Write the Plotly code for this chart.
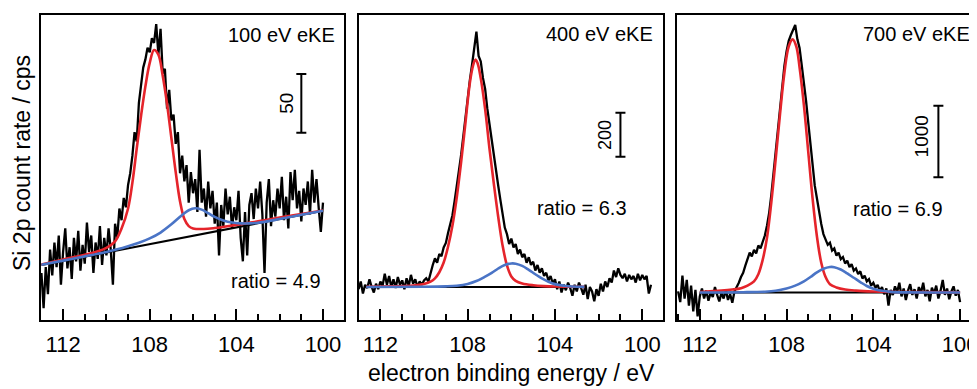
import plotly.graph_objects as go

# ---------------- data ----------------
E_START = 113.0
E_STEP = 0.1

# Panel 1: 100 eV eKE  (E = 113.0 ... 100.0, step 0.1)
p1_counts = [40, 10, 45, 22, 60, 38, 66, 45, 72, 30,
             58, 78, 44, 62, 35, 70, 50, 76, 42, 64,
             48, 83, 58, 72, 40, 66, 52, 80, 47, 70,
             55, 78, 60, 30, 82, 70, 95, 85, 104, 96,
             115, 125, 140, 160, 152, 185, 200, 215, 222, 232,
             228, 240, 236, 252, 226, 248, 210, 214, 180, 196,
             170, 175, 150, 160, 125, 140, 118, 132, 100, 126,
             108, 120, 92, 145, 100, 112, 88, 118, 95, 110,
             82, 100, 55, 98, 80, 112, 90, 105, 78, 96,
             85, 110, 70, 50, 92, 55, 98, 108, 86, 112,
             95, 118, 90, 40, 100, 120, 80, 102, 88, 112,
             95, 122, 85, 105, 78, 126, 102, 128, 95, 110,
             84, 112, 98, 118, 90, 128, 100, 120, 96, 75,
             100]

# Panel 2: 400 eV eKE  (E = 113.0 ... 99.6)
p2_counts = [140, 175, 120, 160, 145, 185, 150, 125, 165, 140,
             175, 155, 210, 160, 200, 150, 185, 145, 195, 160,
             180, 140, 190, 155, 205, 165, 185, 150, 175, 160,
             180, 190, 175, 215, 250, 280, 260, 300, 290, 330,
             350, 395, 430, 475, 540, 600, 680, 750, 840, 930,
             1010, 1090, 1160, 1230, 1310, 1200, 1175, 1100, 1050, 960,
             890, 800, 745, 665, 610, 545, 480, 420, 390, 345,
             370, 330, 345, 300, 320, 285, 300, 260, 285, 250,
             265, 225, 250, 215, 235, 200, 215, 180, 200, 165,
             185, 140, 175, 125, 160, 135, 170, 145, 110, 160,
             130, 170, 145, 115, 160, 95, 150, 130, 85, 140,
             110, 165, 130, 175, 150, 190, 170, 225, 195, 235,
             205, 190, 210, 175, 205, 185, 200, 170, 210, 180,
             205, 185, 200, 120, 160]

# Panel 3: 700 eV eKE  (E = 113.0 ... 100.0)
p3_counts = [400, 250, 620, 300, 560, 200, 480, 120, 420, 50,
             330, 440, 300, 410, 270, 380, 320, 460, 350, 260,
             380, 300, 420, 280, 360, 240, 400, 450, 520, 600,
             660, 760, 840, 940, 890, 980, 930, 1040, 1000, 1100,
             1180, 1320, 1500, 1750, 2050, 2350, 2650, 2980, 3250, 3550,
             3750, 3900, 3980, 4050, 4120, 3920, 3800, 3560, 3330, 3060,
             2760, 2450, 2150, 1880, 1700, 1500, 1340, 1200, 1120, 1050,
             1080, 970, 1000, 900, 940, 850, 880, 790, 830, 740,
             780, 690, 720, 640, 680, 580, 620, 540, 570, 480,
             520, 450, 490, 400, 460, 360, 440, 200, 420, 350,
             470, 390, 520, 330, 440, 280, 410, 500, 350, 430,
             300, 460, 380, 520, 330, 420, 260, 450, 370, 480,
             300, 410, 560, 350, 440, 290, 400, 470, 340, 420,
             250]

# Fit components
p1_red_E = [113.0, 112.0, 111.0, 110.5, 110.0, 109.6, 109.3, 109.0, 108.8, 108.6,
            108.4, 108.2, 108.0, 107.8, 107.6, 107.4, 107.2, 107.0, 106.8, 106.6,
            106.4, 106.2, 106.0, 105.5, 105.0, 104.5, 104.0, 103.0, 102.0, 101.0, 100.0]
p1_red = [47.3, 51.5, 55.5, 58.0, 61.5, 67, 78, 95, 117, 146,
          174, 199, 219, 230, 226, 208, 184, 155, 126, 101,
          86, 80, 78, 77.5, 78.3, 79.6, 81, 84, 87.2, 90.2, 93.2]
p1_blue_E = [113.0, 112.0, 111.0, 110.0, 109.5, 109.0, 108.5, 108.0, 107.5, 107.0,
             106.5, 106.2, 105.9, 105.6, 105.3, 105.0, 104.6, 104.2, 103.8, 103.4,
             103.0, 102.0, 101.0, 100.0]
p1_blue = [47.0, 50.6, 54.2, 58.0, 60.2, 62.8, 65.8, 69.5, 74.5, 81.5,
           89.5, 93.5, 95.2, 94, 91, 87.8, 84.8, 83, 82.3, 82.3,
           82.8, 86, 89.6, 93.1]
p1_base_E = [113.0, 100.0]
p1_base = [46.8, 93.1]

p2_red_E = [112.65, 111.5, 110.5, 110.0, 109.7, 109.5, 109.3, 109.1, 108.9, 108.7,
            108.5, 108.3, 108.1, 107.9, 107.75, 107.65, 107.55, 107.4, 107.2, 107.0,
            106.8, 106.6, 106.4, 106.2, 106.0, 105.8, 105.5, 105.0, 104.5, 104.0,
            103.0, 102.65]
p2_red = [151, 153, 157, 164, 174, 189, 217, 261, 333, 428,
          558, 718, 898, 1078, 1158, 1183, 1168, 1098, 958, 778,
          618, 468, 338, 248, 198, 178, 166, 158, 154, 152,
          151, 150.5]
p2_blue_E = [112.65, 110.0, 109.0, 108.5, 108.0, 107.6, 107.2, 106.9, 106.6, 106.3,
             106.0, 105.8, 105.5, 105.2, 104.9, 104.6, 104.3, 104.0, 103.6, 103.2,
             102.65]
p2_blue = [150, 151, 153, 156, 164, 177, 197, 214, 234, 250,
           257, 256, 246, 228, 208, 189, 174, 163, 156, 152,
           150.5]
p2_base_E = [112.65, 102.65]
p2_base = [150, 150]

p3_red_E = [112.0, 111.0, 110.5, 110.1, 109.8, 109.5, 109.3, 109.1, 108.9, 108.7,
            108.5, 108.3, 108.1, 107.9, 107.72, 107.55, 107.4, 107.2, 107.0, 106.8,
            106.6, 106.4, 106.2, 106.0, 105.7, 105.3, 104.8, 104.0, 103.0, 102.0, 100.0]
p3_red = [392, 410, 425, 445, 480, 540, 640, 840, 1150, 1650,
          2250, 2880, 3450, 3820, 3920, 3820, 3530, 3000, 2350, 1700,
          1170, 800, 600, 500, 455, 425, 410, 398, 392, 389, 386]
p3_blue_E = [112.0, 110.0, 109.0, 108.5, 108.0, 107.6, 107.2, 106.9, 106.6, 106.3,
             106.0, 105.8, 105.5, 105.2, 104.9, 104.6, 104.3, 104.0, 103.6, 103.2,
             102.5, 100.0]
p3_blue = [385, 388, 395, 408, 440, 480, 540, 600, 665, 715,
           740, 738, 705, 650, 590, 530, 475, 438, 408, 393,
           386, 385]
p3_base_E = [112.0, 100.0]
p3_base = [385, 385]

tick_vals = [112, 108, 104, 100]
tick_text = ["112", "108", "104", "100"]
minor_vals = [113, 111, 110, 109, 107, 106, 105, 103, 102, 101]

panel_labels = ["100 eV eKE", "400 eV eKE", "700 eV eKE"]
ratio_labels = ["ratio = 4.9", "ratio = 6.3", "ratio = 6.9"]

scale_E = [101.0, 101.0, 101.0]
scale_center = [184.5, 842, 2494]
scale_len = [50, 200, 1000]
scale_text = ["50", "200", "1000"]

x_title = "electron binding energy / eV"
y_title = "Si 2p count rate / cps"

# ---------------- figure ----------------
RED = "#e5242b"
BLUE = "#4a74c6"
FONT = "Liberation Sans, Arial, sans-serif"


def egrid(n):
    return [round(E_START - i * E_STEP, 2) for i in range(n)]


panels = [
    (p1_counts, p1_base_E, p1_base, p1_red_E, p1_red, p1_blue_E, p1_blue),
    (p2_counts, p2_base_E, p2_base, p2_red_E, p2_red, p2_blue_E, p2_blue),
    (p3_counts, p3_base_E, p3_base, p3_red_E, p3_red, p3_blue_E, p3_blue),
]

fig = go.Figure()
for k, (cnt, bE, bV, rE, rV, uE, uV) in enumerate(panels):
    xa = "x" if k == 0 else f"x{k+1}"
    ya = "y" if k == 0 else f"y{k+1}"
    fig.add_trace(go.Scatter(x=egrid(len(cnt)), y=cnt, mode="lines",
                             line=dict(color="black", width=2.3),
                             xaxis=xa, yaxis=ya, showlegend=False))
    fig.add_trace(go.Scatter(x=bE, y=bV, mode="lines",
                             line=dict(color="black", width=2),
                             xaxis=xa, yaxis=ya, showlegend=False))
    fig.add_trace(go.Scatter(x=rE, y=rV, mode="lines",
                             line=dict(color=RED, width=2.6, shape="spline", smoothing=1),
                             xaxis=xa, yaxis=ya, showlegend=False))
    fig.add_trace(go.Scatter(x=uE, y=uV, mode="lines",
                             line=dict(color=BLUE, width=2.6, shape="spline", smoothing=1),
                             xaxis=xa, yaxis=ya, showlegend=False))
    # scale bar
    fig.add_trace(go.Scatter(x=[scale_E[k]], y=[scale_center[k]], mode="markers",
                             marker=dict(size=1, color="rgba(0,0,0,0)"),
                             error_y=dict(type="data", array=[scale_len[k] / 2],
                                          color="black", thickness=2, width=5),
                             xaxis=xa, yaxis=ya, showlegend=False))

# the page body adds an 8 px margin, so the figure is 8 px smaller
OFF = 8
W, H = 977 - OFF, 389 - OFF
ML, MR, MT, MB = 41 - OFF, 0, 15 - OFF, 69
PW = W - ML - MR   # 936
PH = H - MT - MB   # 305

domains = [[0.0, 303 / PW], [318 / PW, 622 / PW], [636 / PW, 1.0]]
xranges = [[113.02, 99.03], [112.98, 99.05], [113.05, 99.22]]
yranges = [[0, 259.8], [0, 1386], [0, 4260]]

layout = dict(width=W, height=H, margin=dict(l=ML, r=MR, t=MT, b=MB),
              paper_bgcolor="white", plot_bgcolor="white",
              font=dict(family=FONT, color="black"))
for k in range(3):
    sx = "" if k == 0 else str(k + 1)
    layout["xaxis" + sx] = dict(
        domain=domains[k], range=xranges[k], anchor="y" + sx,
        tickmode="array", tickvals=tick_vals, ticktext=tick_text,
        ticks="inside", ticklen=11, tickwidth=2, tickcolor="black",
        showline=True, linewidth=2, linecolor="black", mirror=True,
        showgrid=False, zeroline=False, tickfont=dict(size=22, family=FONT),
        ticklabelstandoff=4, ticklabeloverflow="allow",
        minor=dict(tickmode="array", tickvals=minor_vals, ticks="inside",
                   ticklen=6, tickwidth=2, tickcolor="black", showgrid=False),
    )
    layout["yaxis" + sx] = dict(
        domain=[0, 1], range=yranges[k], anchor="x" + sx,
        showline=True, linewidth=2, linecolor="black", mirror=(k < 2),
        showticklabels=False, ticks="", showgrid=False, zeroline=False,
    )


def px2paper(px, py):
    # px, py in reference-image pixels
    return (px - 41) / PW, (320 - py) / PH


ann = []
lab_pos = [(337, 35), (655, 34), (972, 34)]
for k in range(3):
    x, y = px2paper(*lab_pos[k])
    ann.append(dict(text=panel_labels[k], x=x, y=y, xref="paper", yref="paper",
                    xanchor="right", yanchor="middle", showarrow=False,
                    font=dict(size=20)))
rat_pos = [(323, 281), (629, 208), (945, 209)]
for k in range(3):
    x, y = px2paper(*rat_pos[k])
    ann.append(dict(text=ratio_labels[k], x=x, y=y, xref="paper", yref="paper",
                    xanchor="right", yanchor="middle", showarrow=False,
                    font=dict(size=20)))
sc_pos = [(286.7, 103), (605, 135), (921.7, 136.7)]
sc_size = [19, 18, 19]
for k in range(3):
    x, y = px2paper(*sc_pos[k])
    ann.append(dict(text=scale_text[k], x=x, y=y, xref="paper", yref="paper",
                    xanchor="center", yanchor="middle", showarrow=False,
                    textangle=-90, font=dict(size=sc_size[k])))
x, y = px2paper(511, 373)
ann.append(dict(text=x_title, x=x, y=y, xref="paper", yref="paper",
                xanchor="center", yanchor="middle", showarrow=False,
                font=dict(size=23)))
x, y = px2paper(22, 163)
ann.append(dict(text=y_title, x=x, y=y, xref="paper", yref="paper",
                xanchor="center", yanchor="middle", showarrow=False,
                textangle=-90, font=dict(size=23)))
layout["annotations"] = ann

fig.update_layout(**layout)
fig.write_html("out.html")
